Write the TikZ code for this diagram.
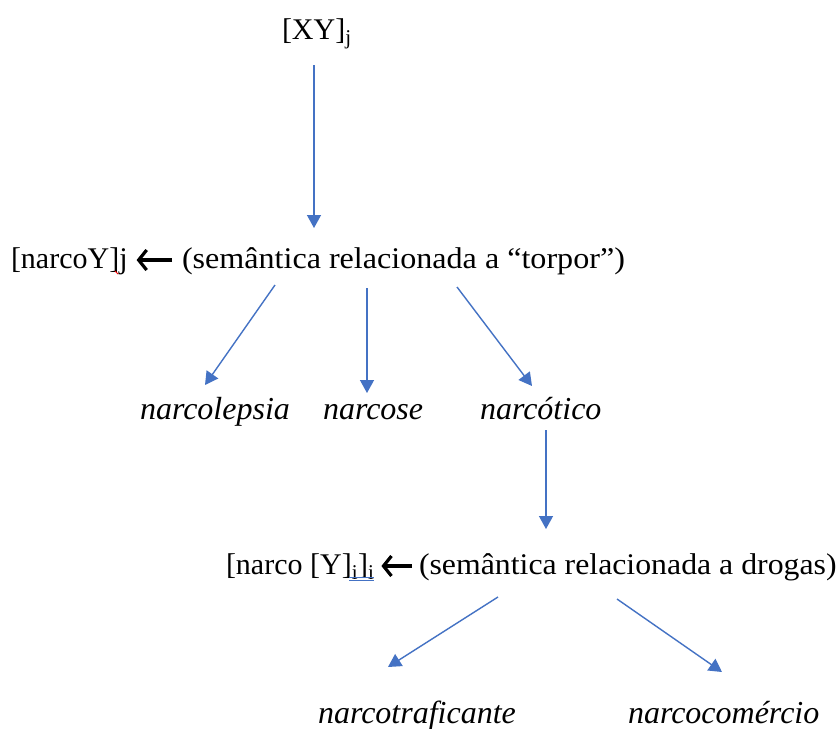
\documentclass[tikz,border=0pt]{standalone}
\usepackage{fontspec}
\setmainfont{Liberation Serif}
\newfontfamily\widerm[FakeStretch=1.07]{Liberation Serif}
\newfontfamily\widermb[FakeStretch=1.06]{Liberation Serif}
\usetikzlibrary{arrows.meta}
\definecolor{linkblue}{HTML}{4472C4}
\tikzset{
  every node/.style={inner sep=0pt, outer sep=0pt, anchor=base west},
  formula/.style={font=\fontsize{30}{36}\selectfont},
  gloss/.style={font=\fontsize{30}{36}\widerm},
  glossb/.style={font=\fontsize{30}{36}\widermb},
  term/.style={font=\fontsize{32}{38}\selectfont\itshape},
  link/.style={draw=linkblue, line width=1.4pt,
    -{Triangle[length=13pt,width=14pt]}},
  pointer/.style={draw=black, line width=3.2pt,
    -{Straight Barb[length=8pt,width=20pt,line width=3.2pt]}},
  checkmark/.style={line width=0.9pt},
}
\begin{document}
\begin{tikzpicture}[x=1pt,y=-1pt]
  \useasboundingbox[fill=white] (0,0) rectangle (839,729);

  % levels of the scheme
  \node[formula] (root) at (282,39) {[XY]\textsubscript{j}};
  \node[formula] (midL) at (11,268) {[narcoY]j};
  \node[gloss] (midR) at (182,268) {(semântica relacionada a “torpor”)};
  \node[term] (t1) at (140,419) {narcolepsia};
  \node[term] (t2) at (323,419) {narcose};
  \node[term] (t3) at (480,419) {narcótico};
  \node[formula] (subL) at (226,574) {[narco [Y]\textsubscript{i}]\textsubscript{i}};
  \node[glossb] (subR) at (419,574) {(semântica relacionada a drogas)};
  \node[term] (t4) at (318,723) {narcotraficante};
  \node[term] (t5) at (628,723) {narcocomércio};

  % arrows pointing from the glosses back to the formulas
  \draw[pointer] ([shift={(-10,-8)}]midR.base west) -- ([shift={(9,-8)}]midL.base east);
  \draw[pointer] ([shift={(-7,-8)}]subR.base west) -- ([shift={(7,-8)}]subL.base east);

  % connectors
  \draw[link] ([shift={(32,26)}]root.base west) -- ([shift={(132,-40)}]midR.base west);
  \draw[link] ([shift={(93,17)}]midR.base west) -- ([shift={(65,-34)}]t1.base west);
  \draw[link] ([shift={(185,20)}]midR.base west) -- ([shift={(44,-26)}]t2.base west);
  \draw[link] ([shift={(275,19)}]midR.base west) -- ([shift={(52,-33)}]t3.base west);
  \draw[link] ([shift={(66,11)}]t3.base west) -- ([shift={(127,-45)}]subR.base west);
  \draw[link] ([shift={(79,23)}]subR.base west) -- ([shift={(70,-56)}]t4.base west);
  \draw[link] ([shift={(198,25)}]subR.base west) -- ([shift={(94,-51)}]t5.base west);

  % proofing marks under the formulas
  \draw[checkmark, red] ([shift={(104,3)}]midL.base west) -- ([shift={(107,6)}]midL.base west);
  \draw[checkmark, linkblue] ([shift={(-25,3)}]subL.base east) -- ([shift={(0,3)}]subL.base east);
  \draw[checkmark, linkblue] ([shift={(-25,6)}]subL.base east) -- ([shift={(0,6)}]subL.base east);
\end{tikzpicture}
\end{document}
